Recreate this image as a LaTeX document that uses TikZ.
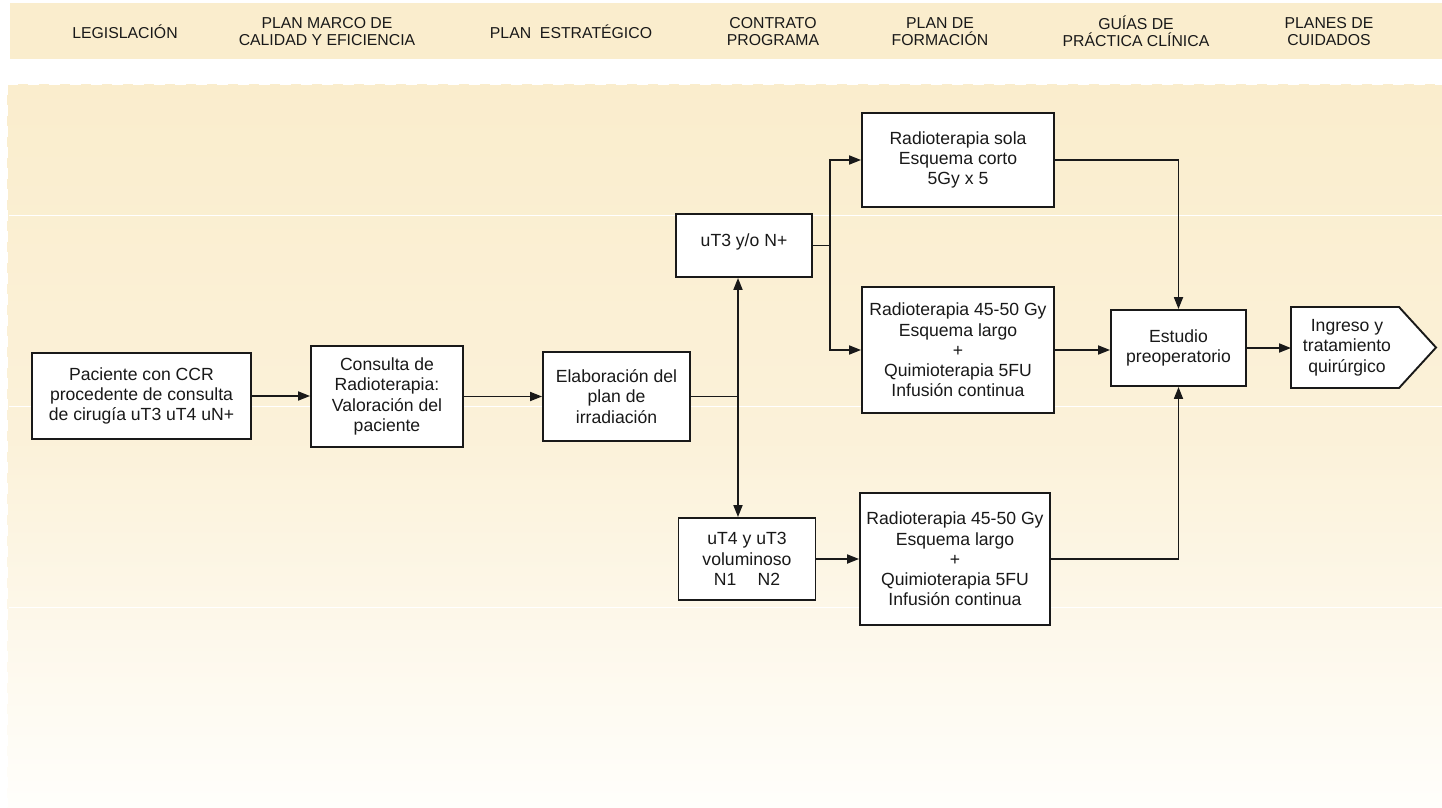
\documentclass[tikz,border=0pt]{standalone}
\usepackage{fontspec}
\setmainfont{Liberation Sans}
\usetikzlibrary{arrows.meta,calc}
\definecolor{sand}{RGB}{250,237,205}
\definecolor{sandfade}{RGB}{255,254,251}
\definecolor{ink}{RGB}{25,25,25}
\begin{document}
\begin{tikzpicture}[x=1pt,y=-1pt,
  hdr/.style={font=\fontsize{15.8}{16.8}\selectfont, align=center, text=ink, inner sep=0},
  box/.style={draw=ink, line width=1.9pt, fill=white, align=center, inner sep=0,
              text=ink, font=\fontsize{17.6}{20.3}\selectfont},
  wire/.style={draw=ink, line width=1.8pt},
  arr/.style={wire, -{Triangle[length=12pt,width=9pt]}}]

\useasboundingbox (0,0) rectangle (1442,807);

% header band and fading panel
\fill[sand] (10,3) rectangle (1442,59);
\shade[top color=sand, bottom color=sandfade, middle color=sand!75!white] (7,84) rectangle (1442,807);
\draw[white, line width=2pt, dash pattern=on 11pt off 10pt] (7,84) -- (1442,84);
\draw[white, line width=1.5pt, dash pattern=on 11pt off 10pt] (7.6,84) -- (7.6,807);
\foreach \yy in {215,406,607}
  \draw[white, line width=0.8pt] (9,\yy) -- (1442,\yy);

% header labels
\node[hdr] (h1) at (125,31.5) {LEGISLACIÓN};
\node[hdr] (h2) at (327,31.5) {PLAN MARCO DE\\CALIDAD Y EFICIENCIA};
\node[hdr] (h3) at (571,31.5) {PLAN\ \ ESTRATÉGICO};
\node[hdr] (h4) at (773,31.5) {CONTRATO\\PROGRAMA};
\node[hdr] (h5) at (940,31.5) {PLAN DE\\FORMACIÓN};
\node[hdr] (h6) at (1136,31.5) {GUÍAS DE\\PRÁCTICA CLÍNICA};
\node[hdr] (h7) at (1329,31.5) {PLANES DE\\CUIDADOS};

% process boxes
\node[box, minimum width=219pt, minimum height=86pt] (pac) at (141.5,396)
  {Paciente con CCR\\procedente de consulta\\de cirugía uT3 uT4 uN+};
\node[box, minimum width=152pt, minimum height=101pt] (cons) at (387,396.5)
  {Consulta de\\Radioterapia:\\Valoración del\\paciente};
\node[box, minimum width=147pt, minimum height=89pt] (elab) at (616.5,396.5)
  {Elaboración del\\plan de\\irradiación};
\node[box, minimum width=136pt, minimum height=63pt, text depth=10pt] (ut3) at (744,245.5)
  {uT3 y/o N+};
\node[box, minimum width=137pt, minimum height=82pt] (ut4) at (747,559)
  {uT4 y uT3\\voluminoso\\N1\hspace{1.2em}N2};
\node[box, minimum width=192pt, minimum height=94pt] (rsola) at (958,160)
  {Radioterapia sola\\Esquema corto\\5Gy x 5};
\node[box, minimum width=192pt, minimum height=126pt] (rup) at (958,350)
  {Radioterapia 45-50 Gy\\Esquema largo\\+\\Quimioterapia 5FU\\Infusión continua};
\node[box, minimum width=190pt, minimum height=132pt] (rlow) at (955,559)
  {Radioterapia 45-50 Gy\\Esquema largo\\+\\Quimioterapia 5FU\\Infusión continua};
\node[box, minimum width=135pt, minimum height=76pt] (est) at (1178.5,348)
  {Estudio\\preoperatorio};

% final step: pointed outline
\coordinate (ingNW) at (1291,307);
\coordinate (ingNE) at (1399,307);
\coordinate (ingTip) at (1436,347.5);
\coordinate (ingSE) at (1399,388);
\coordinate (ingSW) at (1291,388);
\filldraw[draw=ink, fill=white, line width=1.9pt] (ingNW) -- (ingNE) -- (ingTip) -- (ingSE) -- (ingSW) -- cycle;
\node[align=center, inner sep=0, text=ink, font=\fontsize{17.6}{20.3}\selectfont] (ing) at (1347,347.5)
  {Ingreso y\\tratamiento\\quirúrgico};

% junctions
\coordinate (jA) at (738,396.5);
\coordinate (jB) at (830,245.5);

% connectors
\draw[arr] (pac.east) -- (pac.east -| cons.west);
\draw[arr] (cons.east) -- (cons.east -| elab.west);
\draw[wire] (elab.east) -- (jA);
\draw[arr] (jA) -- (jA |- ut3.south);
\draw[arr] (jA) -- (jA |- ut4.north);
\draw[wire] (ut3.east) -- (jB);
\draw[arr] (jB) |- (rsola.west);
\draw[arr] (jB) |- (rup.west);
\draw[arr] (rsola.east) -| (est.north);
\draw[arr] (rup.east) -- (rup.east -| est.west);
\draw[arr] (ut4.east) -- (ut4.east -| rlow.west);
\draw[arr] (rlow.east) -| (est.south);
\draw[arr] (est.east) -- (est.east -| ingSW);

\end{tikzpicture}
\end{document}
